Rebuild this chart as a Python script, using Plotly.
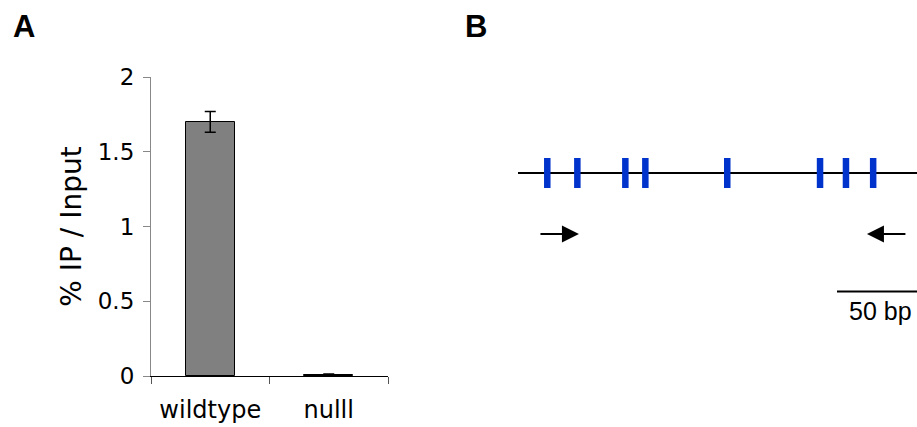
import plotly.graph_objects as go

# ---------------- data ----------------
genotypes = ["wildtype", "nulll"]
ip_input_pct = [1.70, 0.01]
ip_input_err = [0.07, 0.004]
y_ticks = [0, 0.5, 1, 1.5, 2]

# Panel B: positions along the fragment (bp)
fragment_bp = [0, 250]
site_bp = [18.3, 37.1, 67.1, 79.6, 130.8, 188.8, 205.0, 222.0]
fwd_primer_bp = [13.1, 38.1]     # tail, tip
rev_primer_bp = [243.1, 218.1]   # tail, tip
scale_bar_bp = [199.4, 249.4]
scale_label = "50 bp"

W, H = 917, 427
fig = go.Figure()

# ---------------- panel A ----------------
fig.add_trace(go.Bar(
    x=genotypes, y=ip_input_pct,
    width=0.41,
    marker=dict(color="#808080", line=dict(color="black", width=1)),
    error_y=dict(type="data", array=ip_input_err, visible=True,
                 color="black", thickness=1.5, width=5.5),
    xaxis="x", yaxis="y", showlegend=False, hoverinfo="skip",
))

# ---------------- panel B ----------------
TRACK_Y = 0
SITE_HALF = 1.0
PRIMER_Y = -4.07
SCALE_Y = -7.9

fig.add_trace(go.Scatter(
    x=fragment_bp, y=[TRACK_Y, TRACK_Y], mode="lines",
    line=dict(color="black", width=2),
    xaxis="x2", yaxis="y2", showlegend=False, hoverinfo="skip",
))
sx, sy = [], []
for p in site_bp:
    sx += [p, p, None]
    sy += [TRACK_Y - SITE_HALF, TRACK_Y + SITE_HALF, None]
fig.add_trace(go.Scatter(
    x=sx, y=sy, mode="lines",
    line=dict(color="#0033cc", width=6.5),
    xaxis="x2", yaxis="y2", showlegend=False, hoverinfo="skip",
))
fig.add_trace(go.Scatter(
    x=scale_bar_bp, y=[SCALE_Y, SCALE_Y], mode="lines",
    line=dict(color="black", width=2),
    xaxis="x2", yaxis="y2", showlegend=False, hoverinfo="skip",
))

annotations = []
for tail, tip in (fwd_primer_bp, rev_primer_bp):
    annotations.append(dict(
        x=tip, y=PRIMER_Y, ax=tail, ay=PRIMER_Y,
        xref="x2", yref="y2", axref="x2", ayref="y2",
        text="", showarrow=True, arrowhead=2, arrowsize=1.7,
        arrowwidth=2, arrowcolor="black", standoff=0,
    ))
annotations.append(dict(
    x=sum(scale_bar_bp) / 2 + 2, y=SCALE_Y, xref="x2", yref="y2",
    text=scale_label, showarrow=False, yanchor="top", xanchor="center",
    yshift=-3,
    font=dict(family="Liberation Sans, Arial", size=25, color="black"),
))
for lbl, px in (("A", 11), ("B", 463)):
    annotations.append(dict(
        x=px / W, y=1 - 7 / H, xref="paper", yref="paper",
        text=f"<b>{lbl}</b>", showarrow=False, xanchor="left", yanchor="top",
        font=dict(family="Liberation Sans, Arial", size=31, color="black"),
    ))

# axis geometry (pixels)
ax_l, ax_r = 151, 388
ax_t, ax_b = 77, 376
b_l = 518
px_per_unit = 15.0
track_px = 173

fig.update_layout(
    width=W, height=H,
    margin=dict(l=0, r=0, t=0, b=0, autoexpand=False),
    paper_bgcolor="white", plot_bgcolor="white",
    font=dict(family="DejaVu Sans, Verdana", color="black"),
    bargap=0,
    xaxis=dict(
        domain=[ax_l / W, ax_r / W], type="category", automargin=False,
        showline=True, linecolor="black", linewidth=1.2,
        ticks="outside", tickson="boundaries", ticklen=7, tickcolor="#555",
        tickwidth=1.2,
        tickfont=dict(size=24), ticklabelstandoff=12,
        showgrid=False, zeroline=False, fixedrange=True,
    ),
    yaxis=dict(
        domain=[1 - ax_b / H, 1 - ax_t / H], range=[0, 2], automargin=False,
        tickvals=y_ticks, ticktext=[f"{v:g}" for v in y_ticks],
        showline=True, linecolor="#888", linewidth=1.2,
        ticks="outside", ticklen=7, tickcolor="#888", tickwidth=1.2,
        tickfont=dict(size=23), ticklabelstandoff=4,
        title=dict(text="% IP / Input", font=dict(size=28), standoff=7),
        showgrid=False, zeroline=False, fixedrange=True,
    ),
    xaxis2=dict(
        domain=[b_l / W, 1], range=[0, 249.4], anchor="y2",
        visible=False, fixedrange=True, automargin=False,
    ),
    yaxis2=dict(
        domain=[0, 1], anchor="x2", automargin=False,
        range=[-(H - track_px) / px_per_unit, track_px / px_per_unit],
        visible=False, fixedrange=True,
    ),
    annotations=annotations,
)

fig.write_html("out.html")
